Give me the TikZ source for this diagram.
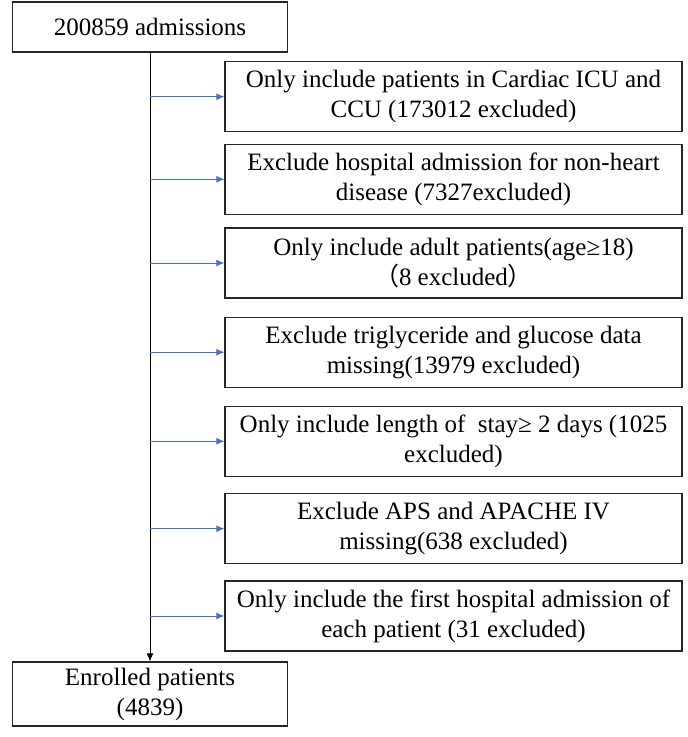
\documentclass[tikz,border=0pt]{standalone}
\usepackage{fontspec}
\setmainfont{Liberation Serif}
\newfontfamily\cjk{Noto Sans CJK SC}
\usetikzlibrary{arrows.meta}
\definecolor{arrowblue}{RGB}{68,114,196}

\begin{document}
\begin{tikzpicture}[x=1pt,y=-1pt,>={Latex[length=8pt,width=7pt]},
  box/.style={rectangle,draw=black!85,line width=1.2pt,align=center,
    font=\fontsize{25}{30}\selectfont,inner sep=0pt},
  main box/.style={box,minimum width=275pt},
  excl box/.style={box,minimum width=457pt,minimum height=70pt}]

  \useasboundingbox (0,0) rectangle (688,737);

  \node[main box,minimum height=50pt] (start) at (150,27) {200859 admissions};

  % exclusion steps, top to bottom
  \node[excl box] (b1) at (453.5,96.7)
    {Only include patients in Cardiac ICU and\\CCU (173012 excluded)};
  \node[excl box] (b2) at (453.5,179.3)
    {Exclude hospital admission for non-heart\\disease (7327excluded)};
  \node[excl box] (b3) at (453.5,263)
    {Only include adult patients(age≥18)\\{\cjk （}8 excluded{\cjk ）}};
  \node[excl box] (b4) at (453.5,352.2)
    {Exclude triglyceride and glucose data\\missing(13979 excluded)};
  \node[excl box] (b5) at (453.5,441.3)
    {Only include length of\ \ stay≥ 2 days (1025\\excluded)};
  \node[excl box] (b6) at (453.5,528.7)
    {Exclude APS and APACHE IV\\missing(638 excluded)};
  \node[excl box] (b7) at (453.5,616)
    {Only include the first hospital admission of\\each patient (31 excluded)};

  \node[main box,minimum height=64pt] (end) at (150,694) {Enrolled patients\\(4839)};

  \draw[->,line width=1pt] (start) -- (end);
  \foreach \n in {1,...,7}
    \draw[->,arrowblue,line width=1pt] (start.south |- b\n.west) -- (b\n.west);

\end{tikzpicture}
\end{document}
